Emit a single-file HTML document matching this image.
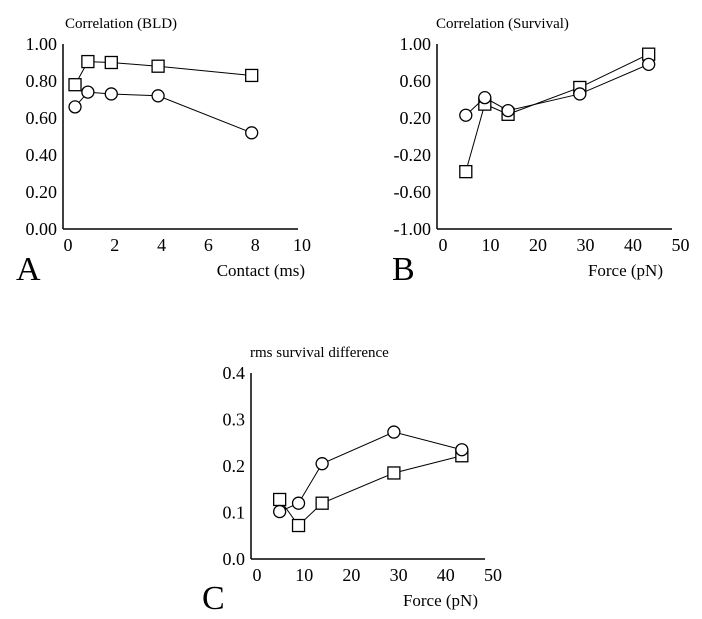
<!DOCTYPE html>
<html><head><meta charset="utf-8">
<style>
html,body{margin:0;padding:0;background:#fff;}
svg{display:block;font-family:"Liberation Serif",serif;}
</style></head>
<body>
<svg id="fig" width="702" height="619" viewBox="0 0 702 619"></svg>
<script>
// Panel A data
const aContact = [0.3, 0.85, 1.85, 3.85, 7.85];
const aSquares = [0.78, 0.905, 0.90, 0.88, 0.83];
const aCircles = [0.66, 0.74, 0.73, 0.72, 0.52];
const aXTicks = [0, 2, 4, 6, 8, 10];
const aYTicks = ["0.00", "0.20", "0.40", "0.60", "0.80", "1.00"];
// Panel B data
const bForce = [4.8, 8.8, 13.7, 28.8, 43.3];
const bSquares = [-0.38, 0.35, 0.24, 0.53, 0.89];
const bCircles = [0.23, 0.42, 0.28, 0.46, 0.78];
const bXTicks = [0, 10, 20, 30, 40, 50];
const bYTicks = ["-1.00", "-0.60", "-0.20", "0.20", "0.60", "1.00"];
// Panel C data
const cForce = [4.8, 8.8, 13.8, 29, 43.4];
const cSquares = [0.128, 0.072, 0.12, 0.185, 0.222];
const cCircles = [0.102, 0.12, 0.205, 0.273, 0.235];
const cXTicks = [0, 10, 20, 30, 40, 50];
const cYTicks = ["0.0", "0.1", "0.2", "0.3", "0.4"];

const NS = "http://www.w3.org/2000/svg";
const svg = document.getElementById("fig");
function mk(tag, attrs, parent, text){
  const e = document.createElementNS(NS, tag);
  for (const k in attrs) e.setAttribute(k, attrs[k]);
  if (text !== undefined) e.textContent = text;
  (parent || svg).appendChild(e);
  return e;
}

function panel(p){
  const g = mk("g", {});
  
  
  const xs = v => p.x0 + (v - p.xmin) * p.xs;
  const ys = v => p.yBot - (v - p.ymin) / (p.ymax - p.ymin) * (p.yBot - p.yTop);
  const ya = mk("line", {x1:p.ax, y1:p.yTop, x2:p.ax, y2:p.yBot, stroke:"#000", "stroke-width":1.5}, g);
  
  
  const xa = mk("line", {x1:p.ax, y1:p.yBot, x2:p.axEnd, y2:p.yBot, stroke:"#000", "stroke-width":1.5}, g);
  
  
  p.yTicks.forEach(t => {
    const y = ys(parseFloat(t));
    const tl = mk("text", {x:p.ax-6, y:y+6, "text-anchor":"end", "font-size":18}, g, t);
    
    
  });
  p.xTicks.forEach(t => {
    const x = xs(t);
    const tl = mk("text", {x:x, y:p.yBot+22, "text-anchor":"middle", "font-size":18}, g, String(t));
    
    
  });
  [[p.sq, "square"], [p.ci, "circle"]].forEach(([vals, kind]) => {
    const pts = vals.map((v, i) => [xs(p.xv[i]), ys(v)]);
    const line = mk("polyline", {points: pts.map(q => q.join(",")).join(" "), fill:"none", stroke:"#000", "stroke-width":1}, g);
    
    
    pts.forEach(([x, y]) => {
      let m;
      if (kind === "square") m = mk("rect", {x:x-6, y:y-6, width:12, height:12, fill:"#fff", stroke:"#000", "stroke-width":1.3}, g);
      else m = mk("circle", {cx:x, cy:y, r:6, fill:"#fff", stroke:"#000", "stroke-width":1.3}, g);
      
      
    });
  });
  const ti = mk("text", {x:p.titleX, y:p.titleY, "font-size":15}, g, p.title);
  
  
  const xt = mk("text", {x:p.xlX, y:p.xlY, "text-anchor":"end", "font-size":17}, g, p.xlabel);
  
  
  const lt = mk("text", {x:p.letX, y:p.letY, "font-size":34}, g, p.letter);
  
  
}

panel({name:"panel-a", ax:63, axEnd:298, x0:68, xmin:0, xs:23.4, yTop:44, yBot:229, ymin:0, ymax:1,
  xv:aContact, sq:aSquares, ci:aCircles, xTicks:aXTicks, yTicks:aYTicks,
  title:"Correlation (BLD)", titleX:65, titleY:28, xlabel:"Contact (ms)", xlX:305, xlY:276, letter:"A", letX:16, letY:280});
panel({name:"panel-b", ax:437, axEnd:672, x0:443, xmin:0, xs:4.75, yTop:44, yBot:229, ymin:-1, ymax:1,
  xv:bForce, sq:bSquares, ci:bCircles, xTicks:bXTicks, yTicks:bYTicks,
  title:"Correlation (Survival)", titleX:436, titleY:28, xlabel:"Force (pN)", xlX:663, xlY:276, letter:"B", letX:392, letY:280});
panel({name:"panel-c", ax:251, axEnd:485, x0:257, xmin:0, xs:4.72, yTop:373, yBot:559, ymin:0, ymax:0.4,
  xv:cForce, sq:cSquares, ci:cCircles, xTicks:cXTicks, yTicks:cYTicks,
  title:"rms survival difference", titleX:250, titleY:357, xlabel:"Force (pN)", xlX:478, xlY:606, letter:"C", letX:202, letY:609});
</script>
</body></html>
